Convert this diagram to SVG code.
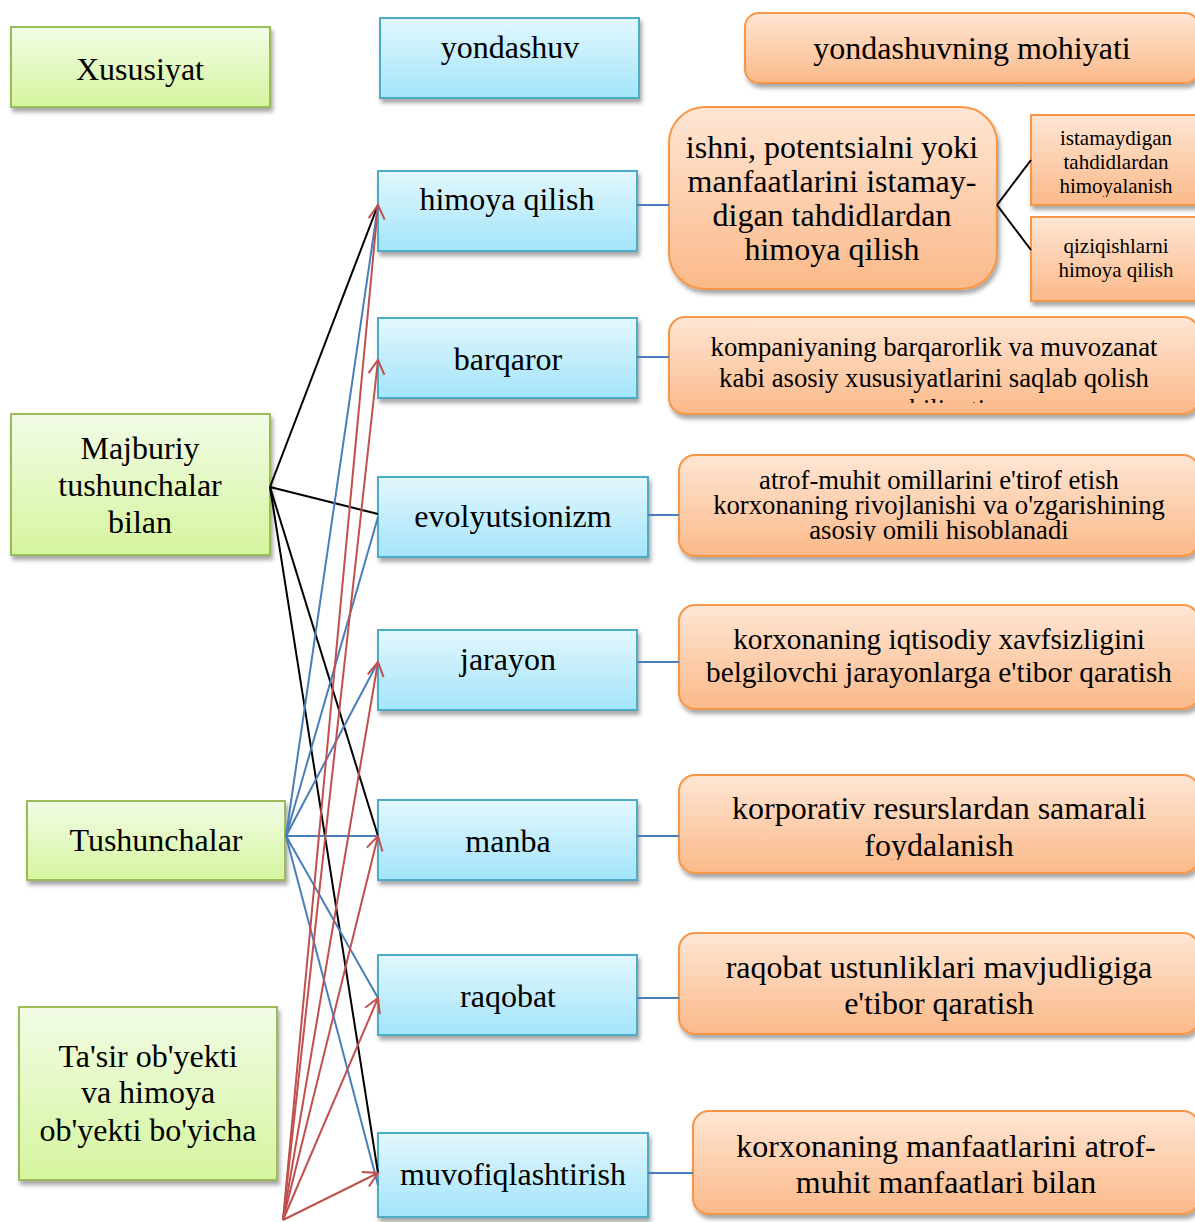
<svg xmlns="http://www.w3.org/2000/svg" width="1195" height="1222" viewBox="0 0 1195 1222">
<defs>
<linearGradient id="gG" x1="0" y1="0" x2="0" y2="1"><stop offset="0" stop-color="#f2fce6"/><stop offset="1" stop-color="#d5f59e"/></linearGradient>
<linearGradient id="gB" x1="0" y1="0" x2="0" y2="1"><stop offset="0" stop-color="#e3f7fd"/><stop offset="1" stop-color="#a3e4fa"/></linearGradient>
<linearGradient id="gO" x1="0" y1="0" x2="0" y2="1"><stop offset="0" stop-color="#fee6d4"/><stop offset="1" stop-color="#fbb989"/></linearGradient>
<filter id="sh" x="-10%" y="-10%" width="130%" height="140%"><feDropShadow dx="2" dy="4" stdDeviation="2" flood-color="#000" flood-opacity="0.35"/></filter>
<marker id="ar" markerUnits="userSpaceOnUse" markerWidth="20" markerHeight="20" viewBox="-16 -10 18 20" refX="0" refY="0" orient="auto"><path d="M-14,-8 L0,0 L-14,8" fill="none" stroke="#c0504d" stroke-width="2"/></marker>
<clipPath id="c1"><rect x="1031" y="115" width="170" height="82"/></clipPath>
<clipPath id="c2"><rect x="669" y="317" width="530" height="86"/></clipPath>
<clipPath id="c3"><rect x="679" y="455" width="520" height="86"/></clipPath>
<clipPath id="c4"><rect x="679" y="775" width="520" height="85"/></clipPath>
</defs>
<style>
.g{fill:url(#gG);stroke:#9bbb59;stroke-width:2;filter:url(#sh)}
.b{fill:url(#gB);stroke:#4bacc6;stroke-width:2;filter:url(#sh)}
.o{fill:url(#gO);stroke:#f79646;stroke-width:2;filter:url(#sh)}
text{font-family:"Liberation Serif","Times New Roman",serif;fill:#000;text-anchor:middle}
.t32{font-size:32px}
.t29{font-size:29.3px}
.t27{font-size:26.7px}
.t21{font-size:21px}
.k{stroke:#000;stroke-width:2;fill:none}
.u{stroke:#4a7ebb;stroke-width:2;fill:none}
.r{stroke:#c0504d;stroke-width:2;fill:none;marker-end:url(#ar)}
</style>

<g id="n-xususiyat"><rect class="g" x="11" y="27" width="259" height="80"/><text class="t32" x="140" y="80">Xususiyat</text></g>
<g id="n-yondashuv"><rect class="b" x="380" y="18" width="259" height="80"/><text class="t32" x="510" y="58">yondashuv</text></g>
<g id="n-mohiyati"><rect class="o" x="745" y="13" width="454" height="70" rx="14"/><text class="t32" x="972" y="59">yondashuvning mohiyati</text></g>

<g id="n-himoya"><rect class="b" x="378" y="171" width="259" height="80"/><text class="t32" x="507" y="210">himoya qilish</text></g>
<g id="n-ishni"><rect class="o" x="669" y="107" width="328" height="182" rx="36"/>
<text class="t32" x="832" y="158">ishni, potentsialni yoki</text>
<text class="t32" x="832" y="192">manfaatlarini istamay-</text>
<text class="t32" x="832" y="226">digan tahdidlardan</text>
<text class="t32" x="832" y="260">himoya qilish</text></g>
<g id="n-istamaydigan"><rect class="o" x="1031" y="115" width="170" height="90"/>
<g clip-path="url(#c1)"><text class="t21" x="1116" y="145">istamaydigan</text><text class="t21" x="1116" y="169">tahdidlardan</text><text class="t21" x="1116" y="193">himoyalanish</text></g></g>
<g id="n-qiziqishlarni"><rect class="o" x="1031" y="217" width="170" height="84"/>
<text class="t21" x="1116" y="253">qiziqishlarni</text><text class="t21" x="1116" y="277">himoya qilish</text></g>

<g id="n-barqaror"><rect class="b" x="378" y="318" width="259" height="80"/><text class="t32" x="508" y="370">barqaror</text></g>
<g id="n-kompaniyaning"><rect class="o" x="669" y="317" width="530" height="97" rx="16"/>
<g clip-path="url(#c2)"><text class="t27" x="934" y="356">kompaniyaning barqarorlik va muvozanat</text><text class="t27" x="934" y="387">kabi asosiy xususiyatlarini saqlab qolish</text><text class="t27" x="934" y="418">qobiliyati</text></g></g>

<g id="n-majburiy"><rect class="g" x="11" y="414" width="259" height="141"/>
<text class="t32" x="140" y="459">Majburiy</text><text class="t32" x="140" y="496">tushunchalar</text><text class="t32" x="140" y="533">bilan</text></g>
<g id="n-evolyutsionizm"><rect class="b" x="378" y="477" width="270" height="80"/><text class="t32" x="513" y="527">evolyutsionizm</text></g>
<g id="n-atrof"><rect class="o" x="679" y="455" width="520" height="101" rx="16"/>
<g clip-path="url(#c3)"><text class="t27" x="939" y="489">atrof-muhit omillarini e'tirof etish</text><text class="t27" x="939" y="514">korxonaning rivojlanishi va o'zgarishining</text><text class="t27" x="939" y="539">asosiy omili hisoblanadi</text></g></g>

<g id="n-jarayon"><rect class="b" x="378" y="630" width="259" height="80"/><text class="t32" x="508" y="670">jarayon</text></g>
<g id="n-iqtisodiy"><rect class="o" x="679" y="605" width="520" height="104" rx="16"/>
<text class="t29" x="939" y="649">korxonaning iqtisodiy xavfsizligini</text><text class="t29" x="939" y="682">belgilovchi jarayonlarga e'tibor qaratish</text></g>

<g id="n-tushunchalar"><rect class="g" x="27" y="801" width="258" height="79"/><text class="t32" x="156" y="851">Tushunchalar</text></g>
<g id="n-manba"><rect class="b" x="378" y="800" width="259" height="80"/><text class="t32" x="508" y="852">manba</text></g>
<g id="n-korporativ"><rect class="o" x="679" y="775" width="520" height="98" rx="16"/>
<g clip-path="url(#c4)"><text class="t32" x="939" y="819">korporativ resurslardan samarali</text><text class="t32" x="939" y="856">foydalanish</text></g></g>

<g id="n-raqobat"><rect class="b" x="378" y="955" width="259" height="80"/><text class="t32" x="508" y="1007">raqobat</text></g>
<g id="n-ustunliklari"><rect class="o" x="679" y="933" width="520" height="101" rx="16"/>
<text class="t32" x="939" y="978">raqobat ustunliklari mavjudligiga</text><text class="t32" x="939" y="1014">e'tibor qaratish</text></g>

<g id="n-tasir"><rect class="g" x="19" y="1007" width="258" height="173"/>
<text class="t32" x="148" y="1067">Ta'sir ob'yekti</text><text class="t32" x="148" y="1103">va himoya</text><text class="t32" x="148" y="1141">ob'yekti bo'yicha</text></g>
<g id="n-muvofiq"><rect class="b" x="378" y="1133" width="270" height="84"/><text class="t32" x="513" y="1185">muvofiqlashtirish</text></g>
<g id="n-manfaatlar"><rect class="o" x="693" y="1111" width="506" height="103" rx="16"/>
<text class="t32" x="946" y="1157">korxonaning manfaatlarini atrof-</text><text class="t32" x="946" y="1193">muhit manfaatlari bilan</text></g>

<g id="connectors">
<line class="u" x1="637" y1="205" x2="669" y2="205"/>
<line class="u" x1="637" y1="357" x2="669" y2="357"/>
<line class="u" x1="648" y1="515" x2="679" y2="515"/>
<line class="u" x1="637" y1="662" x2="679" y2="662"/>
<line class="u" x1="637" y1="836" x2="679" y2="836"/>
<line class="u" x1="637" y1="998" x2="679" y2="998"/>
<line class="u" x1="648" y1="1173" x2="693" y2="1173"/>
<line class="k" x1="997" y1="205" x2="1031" y2="160"/>
<line class="k" x1="997" y1="205" x2="1031" y2="250"/>
<line class="k" x1="270" y1="487" x2="378" y2="205"/>
<line class="k" x1="270" y1="487" x2="378" y2="514"/>
<line class="k" x1="270" y1="487" x2="378" y2="836"/>
<line class="k" x1="270" y1="487" x2="378" y2="1173"/>
<line class="u" x1="286" y1="836" x2="378" y2="205"/>
<line class="u" x1="286" y1="836" x2="378" y2="517"/>
<line class="u" x1="286" y1="836" x2="378" y2="662"/>
<line class="u" x1="286" y1="836" x2="378" y2="836"/>
<line class="u" x1="286" y1="836" x2="378" y2="998"/>
<line class="u" x1="286" y1="836" x2="378" y2="1185"/>
<line class="r" x1="283" y1="1220" x2="378" y2="205"/>
<line class="r" x1="283" y1="1220" x2="378" y2="360"/>
<line class="r" x1="283" y1="1220" x2="378" y2="662"/>
<line class="r" x1="283" y1="1220" x2="378" y2="836"/>
<line class="r" x1="283" y1="1220" x2="378" y2="998"/>
<line class="r" x1="283" y1="1220" x2="378" y2="1173"/>
</g>
</svg>
